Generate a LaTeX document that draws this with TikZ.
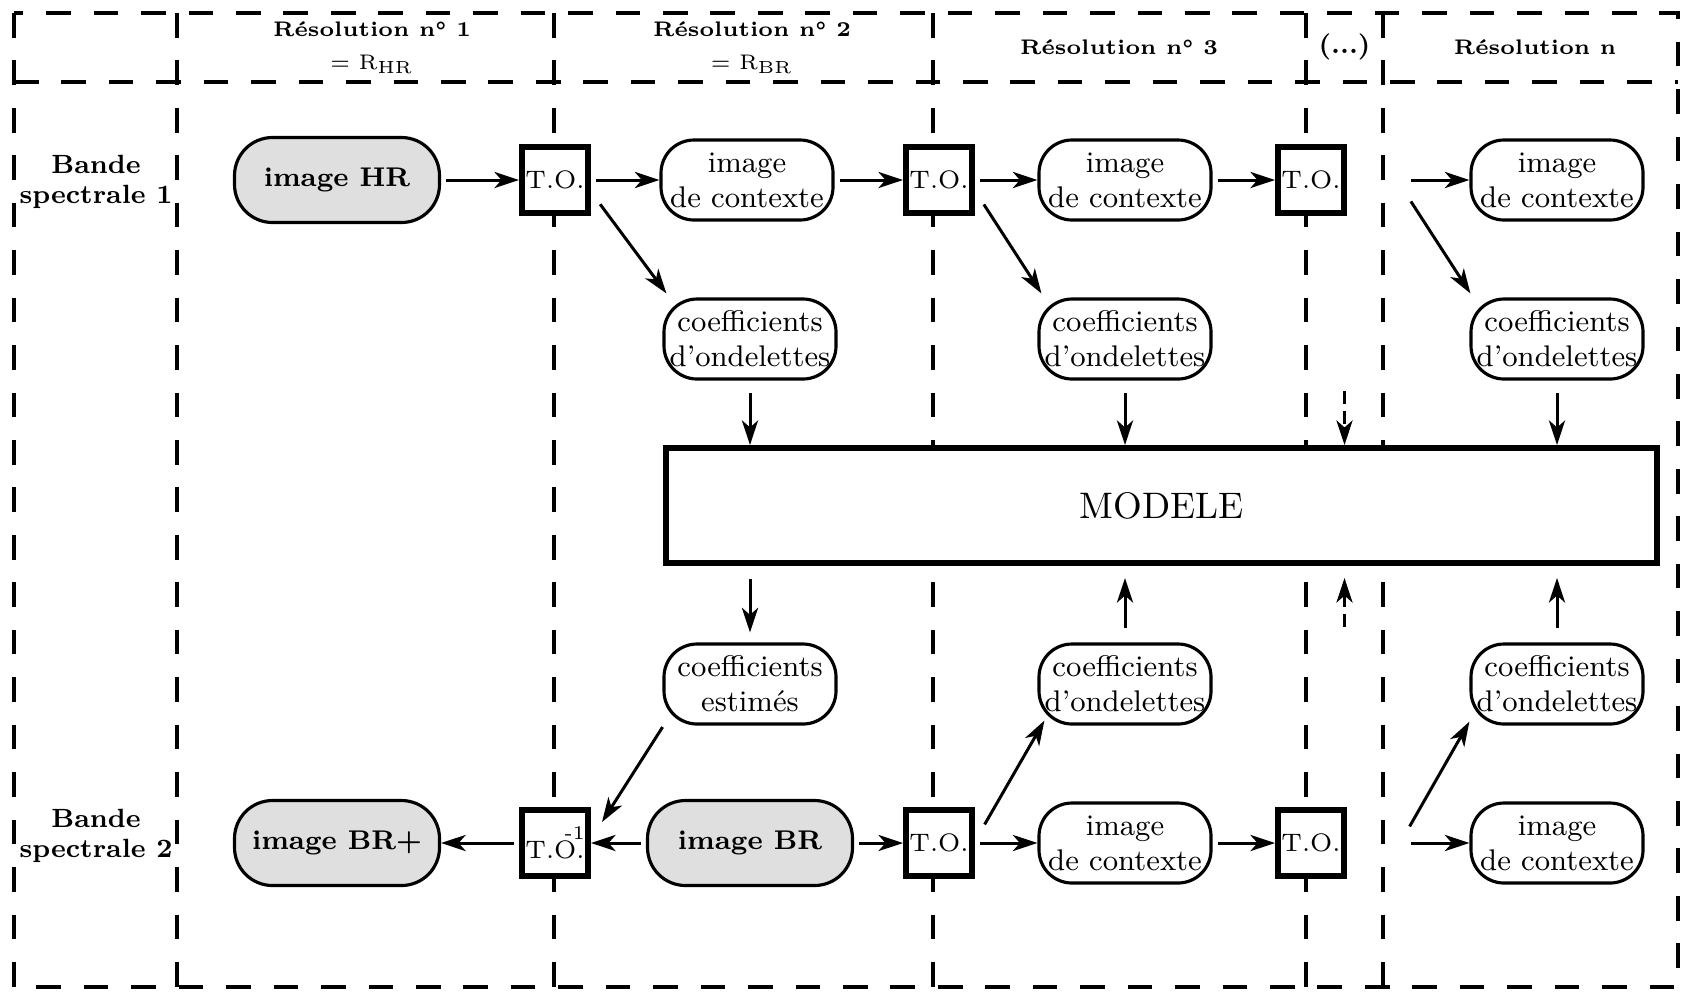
\documentclass[tikz,border=0pt]{standalone}
\usepackage{tikz}
\usetikzlibrary{arrows.meta,calc}

\tikzset{
	grille/.style={line width=1.1pt, dash pattern=on 7pt off 6.5pt},
	fleche/.style={-{Stealth[length=7pt,width=4.6pt,inset=2pt]}, line width=0.85pt, shorten <=1.5pt},
	pointill/.style={fleche, dash pattern=on 3.5pt off 2.2pt},
	imgfond/.style={draw, line width=0.9pt, rounded corners=0.38cm, fill=gray!25,
		minimum width=2.05cm, minimum height=0.85cm, font=\fontsize{7.7}{9}\selectfont\bfseries},
	etiq/.style={draw, line width=0.9pt, rounded corners=0.33cm, fill=white, align=center,
		minimum width=1.72cm, minimum height=0.8cm, inner sep=1pt, font=\fontsize{8.5}{10}\selectfont},
	tobox/.style={draw, line width=1.7pt, fill=white, minimum size=0.66cm, inner sep=0pt,
		font=\fontsize{7.2}{9}\selectfont},
	modele/.style={draw, line width=1.7pt, fill=white, minimum width=9.91cm, minimum height=1.15cm,
		font=\fontsize{10.5}{12}\selectfont},
	titre/.style={align=center, font=\fontsize{6}{9.2}\selectfont\bfseries},
	rangee/.style={align=center, font=\fontsize{7.5}{8.6}\selectfont\bfseries},
}

\begin{document}
\begin{tikzpicture}
		\useasboundingbox (0,0) rectangle (16.86,-9.92);
		% grille des resolutions
		\draw[grille] (0.14,-0.13) rectangle (16.78,-9.87);
		\draw[grille] (0.14,-0.82) -- (16.78,-0.82);
		\path[grille]
			(1.77,-0.13) edge (1.77,-9.87)
			(5.54,-0.13) edge (5.54,-9.87)
			(9.33,-0.13) edge (9.33,-9.87)
			(13.06,-0.13) edge (13.06,-9.87)
			(13.83,-0.13) edge (13.83,-9.87);
%
		\node[titre] (r1) at (3.72,-0.48) {R\'esolution n\textdegree{} 1\\\mdseries= R\textsubscript{HR}};
		\node[titre] (r2) at (7.52,-0.48) {R\'esolution n\textdegree{} 2\\\mdseries= R\textsubscript{BR}};
		\node[titre] (r3) at (11.19,-0.47) {R\'esolution n\textdegree{} 3};
		\node[titre, font=\fontsize{7.5}{9}\selectfont\bfseries] (etc) at (13.445,-0.47) {(...)};
		\node[titre] (rn) at (15.35,-0.47) {R\'esolution n};
		\node[rangee] (b1) at (0.96,-1.82) {Bande\\spectrale 1};
		\node[rangee] (b2) at (0.96,-8.36) {Bande\\spectrale 2};
%
		\node[imgfond] (hr) at (3.37,-1.80) {image HR};
		\node[tobox] (to1) at (5.55,-1.80) {T.O.};
		\node[etiq] (ctx2) at (7.47,-1.80) {image\\de contexte};
		\node[tobox] (to2) at (9.39,-1.80) {T.O.};
		\node[etiq] (ctx3) at (11.25,-1.80) {image\\de contexte};
		\node[tobox] (to3) at (13.11,-1.80) {T.O.};
		\coordinate (dn) at (14.06,-1.80);
		\node[etiq] (ctxn) at (15.57,-1.80) {image\\de contexte};
		\node[etiq] (c2) at (7.50,-3.39) {coefficients\\d'ondelettes};
		\node[etiq] (c3) at (11.25,-3.39) {coefficients\\d'ondelettes};
		\node[etiq] (cn) at (15.57,-3.39) {coefficients\\d'ondelettes};
		\coordinate (p1) at (13.445,-3.86);
%
		\node[modele] (mod) at (11.615,-5.055) {MODELE};
%
		\node[etiq] (ce) at (7.50,-6.84) {coefficients\\estim\'es};
		\node[etiq] (c3b) at (11.25,-6.84) {coefficients\\d'ondelettes};
		\node[etiq] (cnb) at (15.57,-6.84) {coefficients\\d'ondelettes};
		\coordinate (p2) at (13.445,-6.32);
		\node[imgfond] (brp) at (3.37,-8.43) {image BR+};
		\node[tobox] (toinv) at (5.55,-8.43) {T.O.\llap{\raisebox{1.7ex}{\fontsize{5.5}{6}\selectfont -1}}};
		\node[imgfond] (br) at (7.50,-8.43) {image BR};
		\node[tobox] (to2b) at (9.39,-8.43) {T.O.};
		\node[etiq] (ctx3b) at (11.25,-8.43) {image\\de contexte};
		\node[tobox] (to3b) at (13.11,-8.43) {T.O.};
		\coordinate (dnb) at (14.06,-8.43);
		\node[etiq] (ctxnb) at (15.57,-8.43) {image\\de contexte};
%
		\draw[fleche] (hr) -- (to1);
		\draw[fleche] (to1) -- (ctx2);
		\draw[fleche] (ctx2) -- (to2);
		\draw[fleche] (to2) -- (ctx3);
		\draw[fleche] (ctx3) -- (to3);
		\draw[fleche] (dn) -- (ctxn);
		\draw[fleche] ($(to1.south east)+(0.06,0.16)$) -- ($(c2.north west)+(0.04,0.04)$);
		\draw[fleche] ($(to2.south east)+(0.06,0.16)$) -- ($(c3.north west)+(0.04,0.04)$);
		\draw[fleche] ($(dn)+(0.02,-0.17)$) -- ($(cn.north west)+(0.01,0.04)$);
		\draw[fleche] ($(c2.south)+(0,-0.07)$) -- (c2.south |- mod.north);
		\draw[fleche] ($(c3.south)+(0,-0.07)$) -- (c3.south |- mod.north);
		\draw[fleche] ($(cn.south)+(0,-0.07)$) -- (cn.south |- mod.north);
		\draw[pointill] (p1) -- (p1 |- mod.north);
%
		\draw[fleche] ($(ce.north |- mod.south)+(0,-0.08)$) -- ($(ce.north)+(0,0.1)$);
		\draw[fleche] ($(c3b.north)+(0,0.09)$) -- ($(c3b.north |- mod.south)+(0,-0.12)$);
		\draw[fleche] ($(cnb.north)+(0,0.09)$) -- ($(cnb.north |- mod.south)+(0,-0.12)$);
		\draw[pointill] (p2) -- ($(p2 |- mod.south)+(0,-0.12)$);
%
		\draw[fleche] (toinv) -- (brp);
		\draw[fleche] (br) -- (toinv);
		\draw[fleche] (br) -- (to2b);
		\draw[fleche] (to2b) -- (ctx3b);
		\draw[fleche] (ctx3b) -- (to3b);
		\draw[fleche] (dnb) -- (ctxnb);
		\draw[fleche] ($(ce.south west)+(0.03,0.03)$) -- ($(toinv.north east)+(0.11,-0.15)$);
		\draw[fleche] ($(to2b.north east)+(0.07,-0.22)$) -- ($(c3b.south west)+(0.07,0.05)$);
		\draw[fleche] ($(dnb)+(0.01,0.12)$) -- ($(cnb.south west)+(0.0,0.04)$);
	\end{tikzpicture}
\end{document}
